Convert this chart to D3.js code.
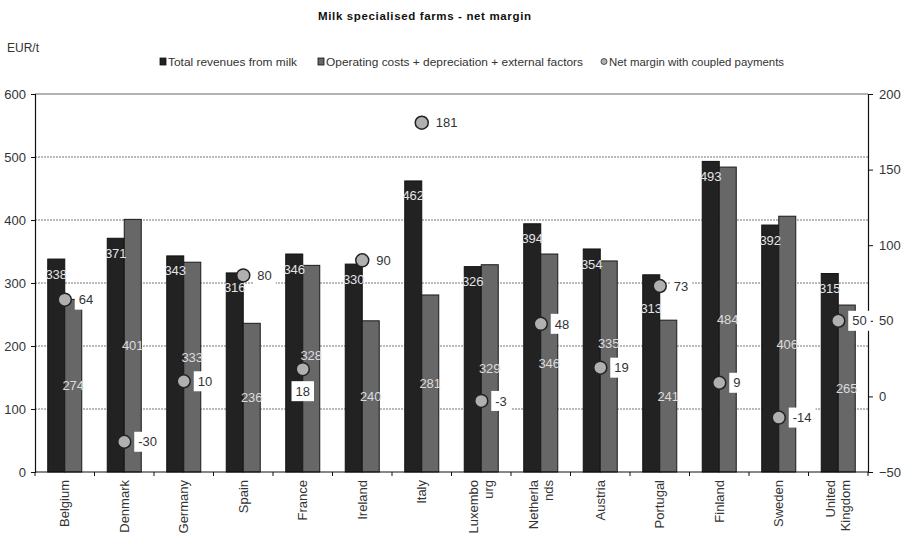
<!DOCTYPE html>
<html>
<head>
<meta charset="utf-8">
<script src="https://cdn.jsdelivr.net/npm/d3@7"></script>
<style>
  html, body { margin: 0; padding: 0; background: #fff; }
  svg { display: block; font-family: "Liberation Sans", Arial, sans-serif; }
</style>
</head>
<body>
<svg id="chart" width="908" height="535"></svg>
<script>
// Milk specialised farms: revenues, costs and net margin per member state (EUR/t)
const categories = ["Belgium", "Denmark", "Germany", "Spain", "France", "Ireland", "Italy",
  "Luxembourg", "Netherlands", "Austria", "Portugal", "Finland", "Sweden", "United Kingdom"];
const categoryLabels = ["Belgium", "Denmark", "Germany", "Spain", "France", "Ireland", "Italy",
  "Luxembo\nurg", "Netherla\nnds", "Austria", "Portugal", "Finland", "Sweden", "United\nKingdom"];
const revenues = [338, 371, 343, 316, 346, 330, 462, 326, 394, 354, 313, 493, 392, 315];
const costs = [274, 401, 333, 236, 328, 240, 281, 329, 346, 335, 241, 484, 406, 265];
const netMargin = [64, -30, 10, 80, 18, 90, 181, -3, 48, 19, 73, 9, -14, 50];
const leftTicks = [0, 100, 200, 300, 400, 500, 600];
const rightTicks = [-50, 0, 50, 100, 150, 200];
const seriesNames = ["Total revenues from milk", "Operating costs + depreciation + external factors",
  "Net margin with coupled payments"];

const svg = d3.select("#chart");
const plot = { left: 35, right: 868, top: 94, bottom: 472 };

const x0 = d3.scaleBand().domain(categories).range([plot.left, plot.right]).padding(0);
const x1 = d3.scaleBand().domain(["rev", "cost"]).range([0, x0.bandwidth()])
  .paddingInner(0).paddingOuter(0.75);
const yL = d3.scaleLinear().domain([0, 600]).range([plot.bottom, plot.top]);
const yR = d3.scaleLinear().domain([-50, 200]).range([plot.bottom, plot.top]);

const DARK = "#222222", GREY = "#676767", DOT = "#b0b0b0";

// Title, unit and legend
svg.append("text").attr("x", 424.5).attr("y", 20).attr("text-anchor", "middle")
  .attr("font-size", 11.5).attr("font-weight", "bold").attr("fill", "#111")
  .attr("textLength", 213).attr("lengthAdjust", "spacing")
  .text("Milk specialised  farms - net margin");
svg.append("text").attr("x", 7).attr("y", 52).attr("font-size", 12).attr("fill", "#333").text("EUR/t");

const legend = svg.append("g").attr("font-size", 11).attr("fill", "#333");
const legendItems = [
  { x: 160, type: "rect", fill: DARK, label: seriesNames[0], len: 129 },
  { x: 318, type: "rect", fill: GREY, label: seriesNames[1], len: 257 },
  { x: 601, type: "circle", fill: DOT, label: seriesNames[2], len: 175 }
];
legendItems.forEach(it => {
  if (it.type === "rect") {
    legend.append("rect").attr("x", it.x).attr("y", 58).attr("width", 6).attr("height", 7)
      .attr("fill", it.fill).attr("stroke", "#111").attr("stroke-width", 0.8);
  } else {
    legend.append("circle").attr("cx", it.x + 3).attr("cy", 61.5).attr("r", 3)
      .attr("fill", it.fill).attr("stroke", "#333").attr("stroke-width", 0.8);
  }
  legend.append("text").attr("x", it.x + 8).attr("y", 65.5)
    .attr("textLength", it.len).attr("lengthAdjust", "spacingAndGlyphs").text(it.label);
});

// Horizontal gridlines from the left axis
svg.append("g").selectAll("line").data(leftTicks.filter(t => t > 0 && t < 600)).join("line")
  .attr("x1", plot.left).attr("x2", plot.right)
  .attr("y1", d => yL(d)).attr("y2", d => yL(d))
  .attr("stroke", "#777").attr("stroke-width", 1).attr("stroke-dasharray", "2,1");
svg.append("line").attr("x1", plot.left).attr("x2", plot.right)
  .attr("y1", yL(600)).attr("y2", yL(600)).attr("stroke", "#9a9a9a").attr("stroke-width", 1.6);

// Bars
const groups = svg.append("g").selectAll("g").data(categories).join("g")
  .attr("transform", d => `translate(${x0(d)},0)`);
groups.append("rect")
  .attr("x", x1("rev")).attr("width", x1.bandwidth())
  .attr("y", (d, i) => yL(revenues[i])).attr("height", (d, i) => yL(0) - yL(revenues[i]))
  .attr("fill", DARK).attr("stroke", "#111").attr("stroke-width", 1);
groups.append("rect")
  .attr("x", x1("cost")).attr("width", x1.bandwidth())
  .attr("y", (d, i) => yL(costs[i])).attr("height", (d, i) => yL(0) - yL(costs[i]))
  .attr("fill", GREY).attr("stroke", "#1a1a1a").attr("stroke-width", 1);

// Axes
const leftAxis = svg.append("g").attr("transform", `translate(${plot.left},0)`)
  .call(d3.axisLeft(yL).tickValues(leftTicks).tickSize(4).tickPadding(5));
const rightAxis = svg.append("g").attr("transform", `translate(${plot.right},0)`)
  .call(d3.axisRight(yR).tickValues(rightTicks).tickSize(5).tickPadding(6));
[leftAxis, rightAxis].forEach(a => {
  a.select(".domain").attr("stroke", "#111").attr("stroke-width", 1.2);
  a.selectAll(".tick line").attr("stroke", "#111");
  a.selectAll(".tick text").attr("font-size", 13).attr("fill", "#333")
    .attr("font-family", "Liberation Sans, Arial, sans-serif");
});
svg.append("line").attr("x1", plot.left).attr("x2", plot.right + 1)
  .attr("y1", yL(0)).attr("y2", yL(0)).attr("stroke", "#111").attr("stroke-width", 1.2);
// category separator ticks
svg.append("g").selectAll("line")
  .data(categories.map(c => x0(c)).concat([x0(categories[categories.length - 1]) + x0.bandwidth()]))
  .join("line")
  .attr("x1", d => d).attr("x2", d => d).attr("y1", yL(0)).attr("y2", yL(0) + 4)
  .attr("stroke", "#111");

// Rotated category labels
const lineGap = 15;
svg.append("g").selectAll("text").data(categories).join("text")
  .attr("transform", d => `translate(${x0(d) + x0.bandwidth() / 2},480) rotate(-90)`)
  .attr("text-anchor", "end").attr("font-size", 13).attr("fill", "#333")
  .each(function (d, i) {
    const lines = categoryLabels[i].split("\n");
    const t = d3.select(this);
    lines.forEach((ln, k) => {
      t.append("tspan").attr("x", 0)
        .attr("y", (k - (lines.length - 1) / 2) * lineGap)
        .attr("dy", "0.36em").text(ln);
    });
  });

// Net margin label layout (needed first so bar labels can avoid it)
const belowLabels = new Set(["France"]);
const dotY = netMargin.map(v => yR(v));
const center = c => x0(c) + x0.bandwidth() / 2;

// Value labels inside bars
const valueLabels = svg.append("g").attr("font-size", 13).attr("text-anchor", "middle");
categories.forEach((c, i) => {
  let ry = yL(revenues[i]) + 15;
  if (Math.abs(ry - dotY[i]) < 10) ry = dotY[i] + 22;
  valueLabels.append("text")
    .attr("x", x0(c) + x1("rev") + x1.bandwidth() / 2)
    .attr("y", ry).attr("dy", "0.35em")
    .attr("fill", "#e4e4e4").text(revenues[i]);
  let ly = (yL(costs[i]) + yL(0)) / 2;
  if (!belowLabels.has(c) && Math.abs(ly - dotY[i]) < 18) ly = dotY[i] - 24;
  if (belowLabels.has(c) && Math.abs(ly - dotY[i]) < 18) ly = dotY[i] - 14;
  valueLabels.append("text")
    .attr("x", x0(c) + x1("cost") + x1.bandwidth() / 2)
    .attr("y", ly).attr("dy", "0.35em")
    .attr("fill", "#dcdcdc").text(costs[i]);
});

// Net margin points with boxed labels
const marks = svg.append("g");
categories.forEach((c, i) => {
  const cx = center(c), cy = dotY[i];
  marks.append("circle").attr("cx", cx).attr("cy", cy).attr("r", 6.5)
    .attr("fill", DOT).attr("stroke", "#222").attr("stroke-width", 1.5);
  const g = marks.append("g");
  const txt = g.append("text").attr("font-size", 13).attr("fill", "#333").text(netMargin[i]);
  const w = txt.node().getComputedTextLength();
  let bx, by;
  if (belowLabels.has(c)) { bx = cx - w / 2 - 4; by = cy + 12; }
  else { bx = cx + 10; by = cy - 10; }
  g.insert("rect", "text").attr("x", bx).attr("y", by).attr("width", w + 8).attr("height", 20)
    .attr("fill", "#fff");
  txt.attr("x", bx + 4).attr("y", by + 10).attr("dy", "0.36em");
});
</script>
</body>
</html>
